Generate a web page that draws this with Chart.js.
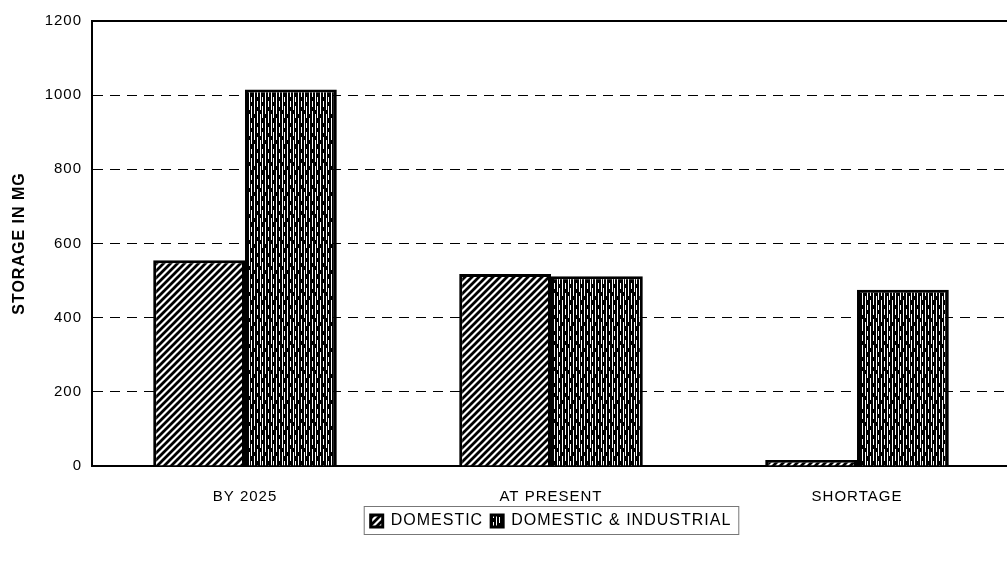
<!DOCTYPE html>
<html>
<head>
<meta charset="utf-8">
<script src="https://cdn.jsdelivr.net/npm/chart.js@4.4.1/dist/chart.umd.min.js"></script>
<style>
  html, body { margin:0; padding:0; background:#fff; overflow:hidden; }
  #wrap { position:relative; width:1010px; height:565px; }
</style>
</head>
<body>
<div id="wrap"><canvas id="storageChart"></canvas></div>
<script>
/* ------------------ Data ------------------ */
const categories = ["BY 2025", "AT PRESENT", "SHORTAGE"];
const domestic = [555, 518, 16];
const domesticIndustrial = [1015, 512, 475];
const yTicks = [0, 200, 400, 600, 800, 1000, 1200];

/* ------------------ Fill patterns ------------------ */
function hatchPattern(ctx){
  const s = 7;
  const c = document.createElement('canvas'); c.width = s; c.height = s;
  const g = c.getContext('2d');
  g.fillStyle = "#fff"; g.fillRect(0,0,s,s);
  g.strokeStyle = "#000"; g.lineWidth = 2.8;
  g.beginPath();
  g.moveTo(0,s); g.lineTo(s,0);
  g.moveTo(-1,1); g.lineTo(1,-1);
  g.moveTo(s-1,s+1); g.lineTo(s+1,s-1);
  g.stroke();
  return ctx.createPattern(c, 'repeat');
}
function streakPattern(ctx){
  const w = 11, h = 26;
  const c = document.createElement('canvas'); c.width = w; c.height = h;
  const g = c.getContext('2d');
  g.fillStyle = "#000"; g.fillRect(0,0,w,h);
  g.fillStyle = "#fff";
  // thin broken vertical streaks on a dark ground, gaps staggered
  [[1,0,10],[1,14,12],[4,0,3],[4,7,12],[4,23,3],[7,0,6],[7,10,16],[9,2,12],[9,19,5]].forEach(([x,y,l]) => g.fillRect(x,y,1,l));
  return ctx.createPattern(c, 'repeat');
}

/* ------------------ Plugins ------------------ */
const spacing = {
  id: 'spacing',
  beforeUpdate(chart){ chart.ctx.letterSpacing = '1px'; },
  beforeDraw(chart){ chart.ctx.letterSpacing = '1px'; }
};
const legendFrame = {
  id: 'legendFrame',
  afterDraw(chart){
    const boxes = chart.legend.legendHitBoxes;
    if(!boxes || !boxes.length) return;
    const first = boxes[0], last = boxes[boxes.length-1];
    const ctx = chart.ctx;
    ctx.save();
    ctx.strokeStyle = "#777"; ctx.lineWidth = 1;
    ctx.strokeRect(first.left - 6.5, first.top - 6.5, last.left + last.width - first.left + 14, first.height + 12);
    ctx.restore();
  }
};

/* ------------------ Chart ------------------ */
Chart.defaults.color = "#000";
Chart.defaults.font.family = "'Liberation Sans', Arial, sans-serif";

const ctx = document.getElementById('storageChart').getContext('2d');
const storageChart = new Chart(ctx, {
  type: 'bar',
  data: {
    labels: categories,
    datasets: [
      { label:"DOMESTIC", data:domestic, backgroundColor:hatchPattern(ctx), borderColor:"#000", borderWidth:3 },
      { label:"DOMESTIC & INDUSTRIAL", data:domesticIndustrial, backgroundColor:streakPattern(ctx), borderColor:"#000", borderWidth:3 }
    ]
  },
  options: {
    responsive:true, maintainAspectRatio:false, animation:false,
    layout:{ padding:{ top:21, right:0, bottom:26, left:0 } },
    datasets:{ bar:{ categoryPercentage:0.6, barPercentage:1.0 } },
    plugins:{
      tooltip:{ enabled:false },
      legend:{
        position:"bottom", fullSize:false,
        labels:{ boxWidth:12, boxHeight:12, padding:8, font:{ size:16 } }
      }
    },
    scales:{
      x:{
        grid:{ display:false },
        border:{ color:"#000", width:2 },
        ticks:{ font:{ size:15 }, padding:14 },
        afterFit(scale){ scale.height = 39; }
      },
      x2:{
        type:'category', position:'top',
        grid:{ display:false },
        border:{ color:"#000", width:2 },
        ticks:{ display:false },
        afterFit(scale){ scale.height = 0; }
      },
      y:{
        min:yTicks[0], max:yTicks[yTicks.length-1],
        ticks:{ stepSize:yTicks[1]-yTicks[0], font:{ size:15 }, padding:10, callback:v => String(v) },
        grid:{ color:"#000", lineWidth:1, drawTicks:false },
        border:{ color:"#000", width:2, dash:[10,7] },
        title:{ display:true, text:"STORAGE IN MG", font:{ size:16, weight:'bold' }, padding:{ top:10 } },
        afterFit(scale){ scale.width = 92; }
      }
    }
  },
  plugins:[spacing, legendFrame]
});
</script>
</body>
</html>
